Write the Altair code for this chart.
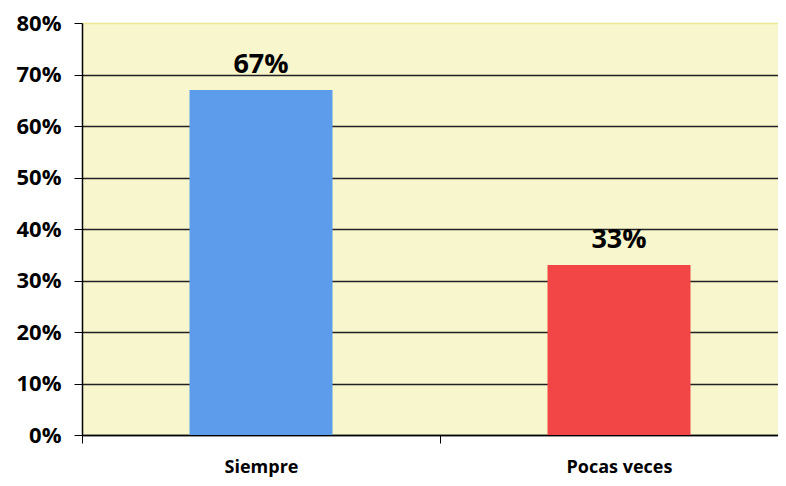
import altair as alt
import pandas as pd

categories = ["Siempre", "Pocas veces"]
values = [0.67, 0.33]
labels = ["67%", "33%"]
colors = ["#5d9ceb", "#f24646"]

df = pd.DataFrame({"cat": categories, "val": values, "lab": labels, "col": colors})

FONT = "Open Sans"

x = alt.X("cat:N", sort=categories, title=None,
          scale=alt.Scale(paddingInner=0, paddingOuter=0, range=[0, 716]),
          axis=alt.Axis(labelAngle=0, labelFont=FONT, labelFontWeight="bold",
                        labelFontSize=18, labelColor="black", labelPadding=15,
                        tickBand="extent", tickSize=8, tickColor="black",
                        domainColor="black", domainWidth=1.5, grid=False))

y = alt.Y("val:Q", title=None,
          scale=alt.Scale(domain=[0, 0.8], nice=False),
          axis=alt.Axis(format=".0%", values=[0, 0.1, 0.2, 0.3, 0.4, 0.5, 0.6, 0.7, 0.8],
                        labelFont=FONT, labelFontWeight="bold", labelFontSize=22,
                        labelColor="black", labelPadding=13, tickSize=8,
                        tickColor="black", domainColor="black", domainWidth=1.5,
                        grid=True,
                        gridColor={"condition": {"test": "datum.value >= 0.8", "value": "#ebe794"},
                                   "value": "#222222"},
                        gridWidth=1.3))

bars = alt.Chart(df).mark_bar(size=143).encode(
    x=x, y=y, color=alt.Color("col:N", scale=None)
)

text = alt.Chart(df).mark_text(font=FONT, fontWeight="bold", fontSize=27,
                               baseline="alphabetic", dy=-17, color="black").encode(
    x=alt.X("cat:N", sort=categories), y="val:Q", text="lab:N"
)

chart = (bars + text).properties(
    width=696, height=412,
    autosize=alt.AutoSizeParams(type="none"),
    padding={"left": 74, "top": 15, "right": 0, "bottom": 43},
).configure_view(fill="#f8f6cc", stroke=None)

chart.save("out.html", embed_options={"renderer": "svg", "actions": False})
